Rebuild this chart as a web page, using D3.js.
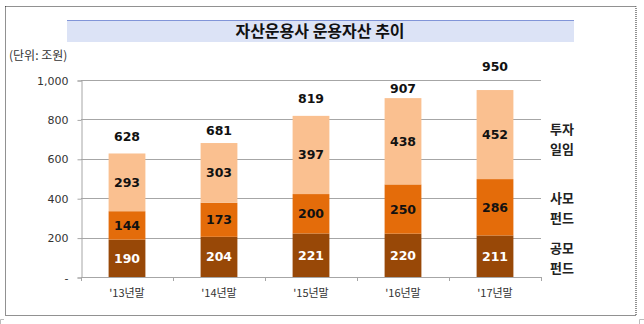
<!DOCTYPE html>
<html>
<head>
<meta charset="utf-8">
<script src="https://cdn.jsdelivr.net/npm/d3@7"></script>
<style>
  html, body { margin: 0; padding: 0; background: #fff; }
  svg { display: block; font-family: "Noto Sans CJK KR", "Noto Sans", sans-serif; }
</style>
</head>
<body>
<svg id="chart" width="644" height="324"></svg>
<script>
// Year-end labels
const categories = ["'13년말", "'14년말", "'15년말", "'16년말", "'17년말"];
// Stacked segments (조원), bottom to top
const publicFund = [190, 204, 221, 220, 211];
const privateFund = [144, 173, 200, 250, 286];
const discretionary = [293, 303, 397, 438, 452];
const totals = [628, 681, 819, 907, 950];
const yTicks = [0, 200, 400, 600, 800, 1000];
const seriesNames = [["공모", "펀드"], ["사모", "펀드"], ["투자", "일임"]];

// Gap (px) between each bar top and its total label baseline
const totalLabelGap = [12.5, 8, 12.5, 5.5, 18.5];

const svg = d3.select("#chart");

// Dotted frame
svg.append("rect").attr("x", 5.5).attr("y", 6.5).attr("width", 630.5).attr("height", 309)
  .attr("fill", "none").attr("stroke", "#222").attr("stroke-width", 1)
  .attr("stroke-dasharray", "1,1");
// Small corner marks outside the frame
svg.append("path").attr("d", "M0.5,324 V319.5 H4").attr("fill", "none").attr("stroke", "#bbb");
svg.append("path").attr("d", "M644,319.5 H639.5 V324").attr("fill", "none").attr("stroke", "#bbb");

// Title band
svg.append("rect").attr("x", 67).attr("y", 20).attr("width", 507).attr("height", 22)
  .attr("fill", "#dce3f6");
svg.append("line").attr("x1", 67).attr("x2", 574).attr("y1", 20.5).attr("y2", 20.5)
  .attr("stroke", "#8195d8").attr("stroke-width", 1);
svg.append("text").attr("x", 320).attr("y", 37).attr("text-anchor", "middle")
  .attr("font-size", 16).attr("font-weight", 700).attr("fill", "#111")
  .text("자산운용사 운용자산 추이");

// Unit note
svg.append("text").attr("x", 9).attr("y", 60).attr("font-size", 12).attr("fill", "#333")
  .text("(단위: 조원)");

const margin = { left: 81, right: 541, top: 80, bottom: 277 };
const x = d3.scaleBand().domain(categories).range([margin.left, margin.right])
  .paddingInner(0.6).paddingOuter(0.3);
const y = d3.scaleLinear().domain([0, 1000]).range([margin.bottom, margin.top]);

// Gridlines
svg.append("g").selectAll("line").data(yTicks.filter(d => d > 0)).join("line")
  .attr("x1", margin.left).attr("x2", margin.right)
  .attr("y1", d => Math.round(y(d)) + 0.5).attr("y2", d => Math.round(y(d)) + 0.5)
  .attr("stroke", "#a6a6a6").attr("stroke-width", 1);

// Y axis
const yAxis = d3.axisLeft(y).tickValues(yTicks).tickSize(4).tickPadding(9)
  .tickFormat(d => d === 0 ? "-" : d3.format(",")(d));
const gy = svg.append("g").attr("transform", `translate(${margin.left + 0.5},0.5)`).call(yAxis);
gy.select(".domain").attr("stroke", "#a6a6a6");
gy.selectAll(".tick line").attr("stroke", "#a6a6a6");
gy.selectAll(".tick text").attr("font-size", 11).attr("fill", "#333")
  .attr("font-family", "Verdana, 'DejaVu Sans', sans-serif");

// Stacked data
const rows = categories.map((c, i) => ({ cat: c, pub: publicFund[i], pri: privateFund[i], dis: discretionary[i] }));
const stack = d3.stack().keys(["pub", "pri", "dis"]);
const layers = stack(rows);
const colors = ["#984807", "#e46c0a", "#fac090"];
const labelColors = ["#fff", "#111", "#111"];

layers.forEach((layer, li) => {
  const g = svg.append("g");
  g.selectAll("rect").data(layer).join("rect")
    .attr("x", d => x(d.data.cat)).attr("width", x.bandwidth())
    .attr("y", d => y(d[1])).attr("height", d => y(d[0]) - y(d[1]))
    .attr("fill", colors[li]);
  g.selectAll("text").data(layer).join("text")
    .attr("x", d => x(d.data.cat) + x.bandwidth() / 2)
    .attr("y", d => (y(d[0]) + y(d[1])) / 2 + 4.5)
    .attr("text-anchor", "middle").attr("font-size", 12.5).attr("font-weight", 700)
    .attr("font-family", "Verdana, 'DejaVu Sans', sans-serif")
    .attr("fill", labelColors[li])
    .text(d => d[1] - d[0]);
});

// Totals above bars
svg.append("g").selectAll("text").data(categories).join("text")
  .attr("x", c => x(c) + x.bandwidth() / 2)
  .attr("y", (c, i) => y(totals[i]) - totalLabelGap[i])
  .attr("text-anchor", "middle").attr("font-size", 12.5).attr("font-weight", 700)
  .attr("font-family", "Verdana, 'DejaVu Sans', sans-serif").attr("fill", "#111")
  .text((c, i) => totals[i]);

// X axis baseline with boundary ticks
svg.append("line").attr("x1", margin.left).attr("x2", margin.right)
  .attr("y1", margin.bottom + 0.5).attr("y2", margin.bottom + 0.5).attr("stroke", "#a6a6a6");
const step = x.step();
svg.append("g").selectAll("line").data(d3.range(categories.length + 1)).join("line")
  .attr("x1", i => Math.round(margin.left + i * step) + 0.5)
  .attr("x2", i => Math.round(margin.left + i * step) + 0.5)
  .attr("y1", margin.bottom).attr("y2", margin.bottom + 4).attr("stroke", "#a6a6a6");
svg.append("g").selectAll("text").data(categories).join("text")
  .attr("x", c => x(c) + x.bandwidth() / 2).attr("y", 297)
  .attr("text-anchor", "middle").attr("font-size", 11).attr("fill", "#333")
  .text(c => c);

// Series names at right, stacked in the same order as the segments
const nameY = [258, 208, 139];
seriesNames.forEach((lines, i) => {
  const t = svg.append("text").attr("x", 550).attr("font-size", 13).attr("font-weight", 700).attr("fill", "#222");
  lines.forEach((s, j) => t.append("tspan").attr("x", 550).attr("y", nameY[i] - 5 + j * 20).text(s));
});
</script>
</body>
</html>
